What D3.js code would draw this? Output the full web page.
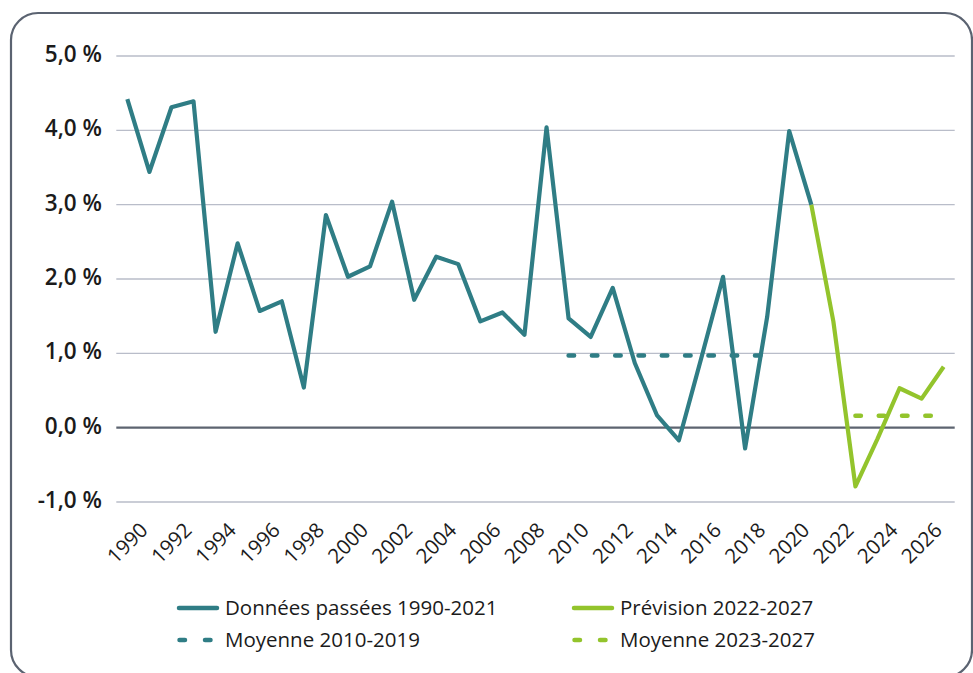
<!DOCTYPE html>
<meta charset="utf-8">
<html>
  <head>
    <title>Croissance 1990-2027</title>
    <script src="https://cdn.jsdelivr.net/npm/d3@7"></script>
    <style>
      body{margin:0;background:#fff;}
      text{font-family:"Open Sans",sans-serif;}
    </style>
  </head>
  <body>
    <div id="chart"></div>
  <script>
    var width=973,
        height=673;
    var teal="#2f7d85", green="#93c42c";

    // data
    var years=[1990,1991,1992,1993,1994,1995,1996,1997,1998,1999,2000,2001,2002,2003,2004,2005,2006,2007,2008,2009,
               2010,2011,2012,2013,2014,2015,2016,2017,2018,2019,2020,2021,2022,2023,2024,2025,2026,2027];
    var histYears=years.slice(0,32); // 1990-2021
    var histValues=[4.42,3.44,4.31,4.39,1.29,2.48,1.57,1.70,0.54,2.86,2.03,2.17,3.04,1.72,2.30,2.20,1.43,1.55,1.25,4.04,
                    1.47,1.22,1.88,0.87,0.17,-0.17,0.92,2.03,-0.28,1.49,3.99,3.00];
    var forecastYears=[2021,2022,2023,2024,2025,2026,2027];
    var forecastValues=[3.00,1.43,-0.79,-0.15,0.53,0.39,0.82];
    var avgPast={from:2010,to:2019,value:0.97};
    var avgForecast={from:2023,to:2027,value:0.16};
    var yTicks=[-1,0,1,2,3,4,5];
    var xTicks=[1990,1992,1994,1996,1998,2000,2002,2004,2006,2008,2010,2012,2014,2016,2018,2020,2022,2024,2026];
    var legendItems=[
      {label:"Données passées 1990-2021",color:teal,dash:false},
      {label:"Prévision 2022-2027",color:green,dash:false},
      {label:"Moyenne 2010-2019",color:teal,dash:true},
      {label:"Moyenne 2023-2027",color:green,dash:true}
    ];

    var svg=d3.select("#chart").append("svg")
      .attr("width",width)
      .attr("height",height);

    // frame
    svg.append("rect")
      .attr("x",11).attr("y",13)
      .attr("width",961).attr("height",664)
      .attr("rx",27).attr("ry",27)
      .attr("fill","none")
      .attr("stroke","#5b6371")
      .attr("stroke-width",2.2);

    var x=d3.scalePoint().domain(years).range([116.3,954.7]).padding(0.5);
    var y=d3.scaleLinear().domain([-1,5]).range([502,56]);

    // grid lines
    svg.append("g").selectAll("line")
      .data(yTicks).enter().append("line")
      .attr("x1",116.3).attr("x2",954.7)
      .attr("y1",function(d){return y(d)})
      .attr("y2",function(d){return y(d)})
      .attr("stroke",function(d){return d===0?"#5d6470":"#b9bdc9"})
      .attr("stroke-width",function(d){return d===0?2.2:1.4});

    // y labels
    var fmt=function(d){return d.toFixed(1).replace(".",",")+" %"};
    svg.append("g").selectAll("text")
      .data(yTicks).enter().append("text")
      .text(fmt)
      .attr("x",102)
      .attr("y",function(d){return y(d)-2})
      .attr("dy","0.35em")
      .attr("text-anchor","end")
      .style("font-size","22.5px")
      .style("font-weight","600")
      .style("fill","#1b1b1b");

    // x labels, rotated and centred on the tick
    svg.append("g").selectAll("text")
      .data(xTicks).enter().append("text")
      .text(function(d){return d})
      .attr("transform",function(d){return "translate("+x(d)+",543) rotate(-45)"})
      .attr("text-anchor","middle")
      .attr("dy","0.35em")
      .style("font-size","20.5px")
      .style("fill","#1b1b1b");

    var line=d3.line()
      .x(function(d){return x(d[0])})
      .y(function(d){return y(d[1])});

    // averages
    [{a:avgPast,c:teal},{a:avgForecast,c:green}].forEach(function(o){
      svg.append("path")
        .attr("d",line([[o.a.from,o.a.value],[o.a.to,o.a.value]]))
        .attr("fill","none")
        .attr("stroke",o.c)
        .attr("stroke-width",4.5)
        .attr("stroke-linecap","round")
        .attr("stroke-dasharray","5.5,17.8");
    });

    // series
    svg.append("path")
      .attr("d",line(d3.zip(forecastYears,forecastValues)))
      .attr("fill","none")
      .attr("stroke",green)
      .attr("stroke-width",4.2)
      .attr("stroke-linejoin","round");
    svg.append("path")
      .attr("d",line(d3.zip(histYears,histValues)))
      .attr("fill","none")
      .attr("stroke",teal)
      .attr("stroke-width",4.2)
      .attr("stroke-linejoin","round");

    // legend
    var legend=svg.append("g").selectAll("g")
      .data(legendItems).enter().append("g")
      .attr("transform",function(d,i){return "translate("+(i%2===0?177:572)+","+(i<2?608:640)+")"});
    legend.append("line")
      .attr("x1",function(d){return d.dash?2.5:2}).attr("x2",40)
      .attr("y1",0).attr("y2",0)
      .attr("stroke",function(d){return d.color})
      .attr("stroke-width",4.5)
      .attr("stroke-linecap","round")
      .attr("stroke-dasharray",function(d){return d.dash?"5.5,20":null});
    legend.append("text")
      .text(function(d){return d.label})
      .attr("x",48)
      .attr("y",0)
      .attr("dy","0.35em")
      .style("font-size","20.5px")
      .style("fill","#1b1b1b");
  </script>
  </body>
</html>
